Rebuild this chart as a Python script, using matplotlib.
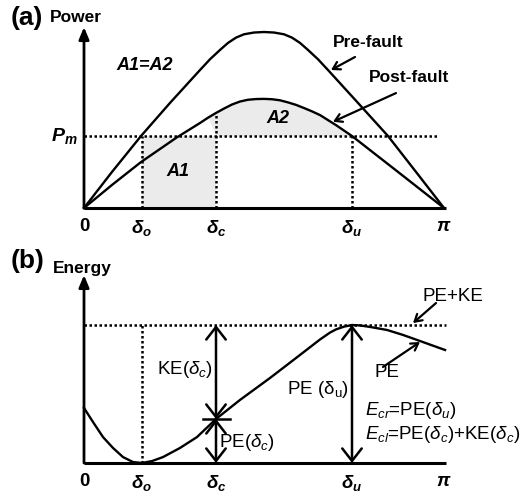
import numpy as np
import matplotlib.pyplot as plt

plt.rcParams['font.family'] = ['Liberation Sans', 'DejaVu Sans']
plt.rcParams['mathtext.fontset'] = 'custom'
plt.rcParams['mathtext.rm'] = 'Liberation Sans'
plt.rcParams['mathtext.it'] = 'Liberation Sans:italic'
plt.rcParams['mathtext.bf'] = 'Liberation Sans:bold:italic'

# rotor angle in degrees, power / energy in per unit
delta_o, delta_c, delta_u = 29.0, 66.0, 134.0
p_m = 0.409

pre_x = [0, 14, 28.5, 43, 58, 63, 68, 72, 76, 80, 85, 90, 95, 100, 104, 108, 112, 117,
         122, 137, 152, 166, 180]
pre_y = [0, 0.205, 0.409, 0.597, 0.784, 0.845, 0.898, 0.938, 0.968, 0.987, 0.997, 1.0,
         0.997, 0.987, 0.968, 0.938, 0.898, 0.845, 0.784, 0.597, 0.409, 0.205, 0]

post_x = [0, 14, 28.5, 46, 58, 62, 66, 70, 74, 78, 82, 86, 90, 94, 98, 102, 106, 110,
          114, 118, 126, 134, 157, 180]
post_y = [0, 0.131, 0.261, 0.398, 0.483, 0.513, 0.540, 0.565, 0.588, 0.605, 0.615, 0.619,
          0.620, 0.618, 0.612, 0.600, 0.586, 0.568, 0.549, 0.528, 0.471, 0.409, 0.205, 0]

pe_x = [0, 4.5, 9.5, 14.5, 19.5, 24.5, 29, 34, 39.5, 48, 56.5, 66, 78, 93, 108, 118,
        123, 126, 130, 134, 138, 143, 151.5, 159.5, 168, 180.5]
pe_y = [0.399, 0.297, 0.188, 0.109, 0.043, 0.007, 0, 0.014, 0.043, 0.109, 0.188, 0.319,
        0.457, 0.616, 0.783, 0.895, 0.945, 0.968, 0.988, 1.0, 0.997, 0.986, 0.964, 0.928,
        0.884, 0.819]
pe_c = 0.319
e_total = 1.0

tick_pos = [0, delta_o, delta_c, delta_u, 180]
tick_labels = ['0', r'$\mathbf{\delta_o}$', r'$\mathbf{\delta_c}$',
               r'$\mathbf{\delta_u}$', r'$\mathbf{\pi}$']

W, H = 526, 495
fig = plt.figure(figsize=(W / 100, H / 100), dpi=100)
ax_a = fig.add_axes([84 / W, 1 - 208 / H, 360 / W, 176 / H])
ax_b = fig.add_axes([84 / W, 1 - 463 / H, 360 / W, 138 / H])

dot = (0, (1, 1))
arrow_kw = dict(arrowstyle='->,head_length=0.5,head_width=0.3', lw=1.6, color='k',
                shrinkA=0, shrinkB=0)

for ax, ytop in [(ax_a, 1.028), (ax_b, 1.362)]:
    ax.set_xlim(0, 180)
    ax.set_ylim(0, 1)
    for s in ax.spines.values():
        s.set_visible(False)
    ax.set_yticks([])
    ax.set_xticks(tick_pos)
    ax.set_xticklabels(tick_labels, fontsize=13.5, fontweight='bold')
    ax.tick_params(axis='x', length=0, pad=7)
    # axes drawn as lines, y axis with an arrow head
    ax.annotate('', xy=(0, ytop), xytext=(0, 0),
                arrowprops=dict(arrowstyle='-|>,head_length=0.6,head_width=0.25', lw=2,
                                color='k', shrinkA=0, shrinkB=0, mutation_scale=12),
                annotation_clip=False)
    ax.plot([0, 181], [0, 0], color='k', lw=2.2, clip_on=False, solid_capstyle='butt')

# (a) power-angle curves
x_post = np.array(post_x)
y_post = np.array(post_y)
ax_a.fill_between([delta_o, delta_c], 0, p_m, color='#ebebeb', lw=0)
ax_a.fill_between(x_post, y_post, p_m, where=(x_post >= delta_c) & (x_post <= delta_u),
                  interpolate=True, color='#ebebeb', lw=0)
ax_a.plot(pre_x, pre_y, color='k', lw=1.7, clip_on=False)
ax_a.plot(post_x, post_y, color='k', lw=1.7, clip_on=False)
ax_a.plot([0, 177], [p_m, p_m], color='k', lw=1.8, ls=dot, clip_on=False)
ax_a.plot([delta_o, delta_o], [0, p_m], color='k', lw=1.8, ls=dot)
ax_a.plot([delta_c, delta_c], [0, np.interp(delta_c, post_x, post_y)], color='k', lw=1.8, ls=dot)
ax_a.plot([delta_u, delta_u], [0, p_m], color='k', lw=1.8, ls=dot)

ax_a.text(-3, p_m, r'$\mathbf{P_m}$', fontsize=14, ha='right', va='center')
ax_a.text(-17, 1.08, 'Power', fontsize=12.5, fontweight='bold', ha='left', va='center')
ax_a.text(30.5, 0.81, 'A1=A2', fontsize=13, fontweight='bold', style='italic',
          ha='center', va='center')
ax_a.text(47, 0.205, 'A1', fontsize=13, fontweight='bold', style='italic',
          ha='center', va='center')
ax_a.text(97, 0.506, 'A2', fontsize=13, fontweight='bold', style='italic',
          ha='center', va='center')
ax_a.text(142, 0.943, 'Pre-fault', fontsize=12.5, fontweight='bold', ha='center', va='center')
ax_a.text(162.5, 0.739, 'Post-fault', fontsize=12.5, fontweight='bold', ha='center',
          va='center')
ax_a.annotate('', xy=(123.5, 0.784), xytext=(135.5, 0.858), arrowprops=arrow_kw,
              annotation_clip=False)
ax_a.annotate('', xy=(124.5, 0.49), xytext=(156, 0.653), arrowprops=arrow_kw,
              annotation_clip=False)

# (b) energy curve
ax_b.plot(pe_x, pe_y, color='k', lw=1.7, clip_on=False)
ax_b.plot([0, 181], [e_total, e_total], color='k', lw=1.8, ls=dot, clip_on=False)
ax_b.plot([delta_o, delta_o], [0, e_total], color='k', lw=1.8, ls=dot)

both_kw = dict(arrowstyle='<->,head_length=0.45,head_width=0.35', lw=1.8, color='k',
               shrinkA=0, shrinkB=0, mutation_scale=20)
ax_b.annotate('', xy=(delta_c, e_total), xytext=(delta_c, pe_c), arrowprops=both_kw,
              annotation_clip=False)
ax_b.annotate('', xy=(delta_c, pe_c), xytext=(delta_c, 0), arrowprops=both_kw,
              annotation_clip=False)
ax_b.plot([delta_c - 6.5, delta_c + 7], [pe_c, pe_c], color='k', lw=1.8)
ax_b.annotate('', xy=(delta_u, e_total), xytext=(delta_u, 0), arrowprops=both_kw,
              annotation_clip=False)

ax_b.text(-15.5, 1.413, 'Energy', fontsize=12.5, fontweight='bold', ha='left', va='center')
ax_b.text(64.5, 0.674, r'KE($\delta_c$)', fontsize=13.5, ha='right', va='center')
ax_b.text(67.5, 0.152, r'PE($\delta_c$)', fontsize=13.5, ha='left', va='center')
ax_b.text(132.5, 0.529, r'PE (δ$_\mathrm{u}$)', fontsize=13.5, ha='right', va='center')
ax_b.text(140.5, 0.377, r'$E_{cr}$=PE($\delta_u$)', fontsize=13.5, ha='left', va='center')
ax_b.text(140.5, 0.21, r'$E_{cl}$=PE($\delta_c$)+KE($\delta_c$)', fontsize=13.5, ha='left',
          va='center')
ax_b.text(151.5, 0.659, 'PE', fontsize=13.5, ha='center', va='center')
ax_b.text(184.5, 1.21, 'PE+KE', fontsize=13.5, ha='center', va='center')
ax_b.annotate('', xy=(164.5, 1.014), xytext=(176, 1.159), arrowprops=arrow_kw,
              annotation_clip=False)
ax_b.annotate('', xy=(168, 0.877), xytext=(149.5, 0.696), arrowprops=arrow_kw,
              annotation_clip=False)

fig.text(11 / W, 1 - 18 / H, '(a)', fontsize=19, fontweight='bold', va='center', ha='left')
fig.text(11 / W, 1 - 261 / H, '(b)', fontsize=19, fontweight='bold', va='center', ha='left')

fig.savefig('out.png', dpi=100)
